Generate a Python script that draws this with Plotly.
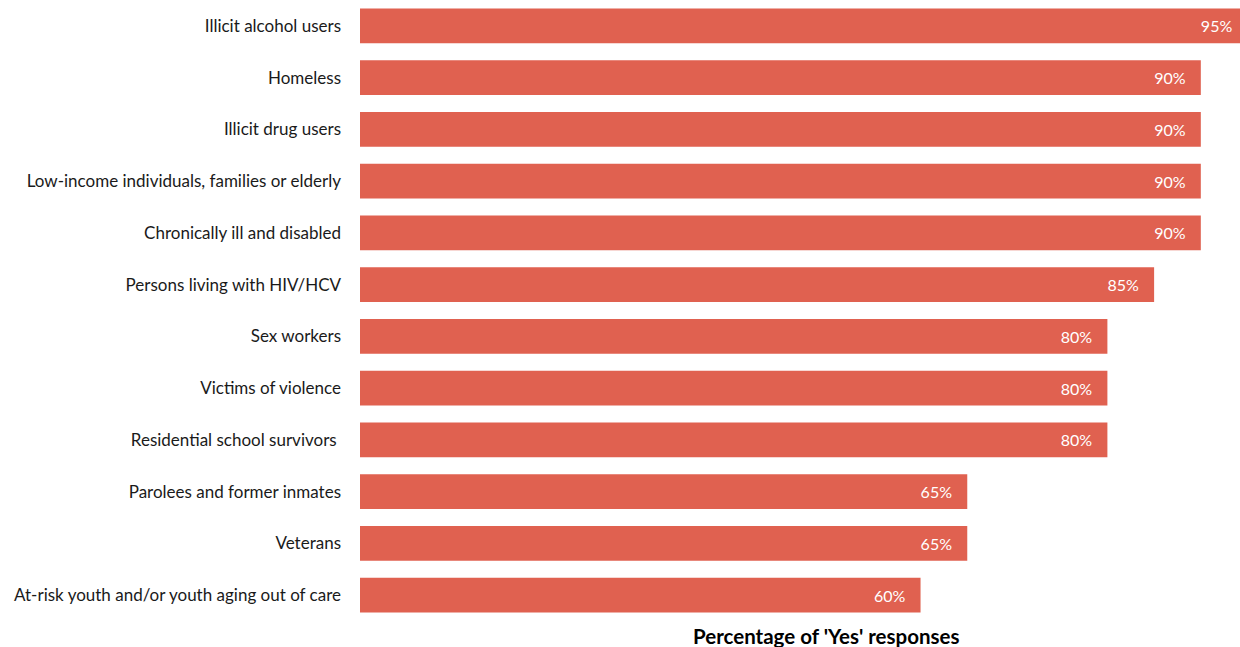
import plotly.graph_objects as go

categories = [
    "Illicit alcohol users",
    "Homeless",
    "Illicit drug users",
    "Low-income individuals, families or elderly",
    "Chronically ill and disabled",
    "Persons living with HIV/HCV",
    "Sex workers",
    "Victims of violence",
    "Residential school survivors ",
    "Parolees and former inmates",
    "Veterans",
    "At-risk youth and/or youth aging out of care",
]
values = [95, 90, 90, 90, 90, 85, 80, 80, 80, 65, 65, 60]
axis_title = "Percentage of 'Yes' responses"

FONT = "Lato, Calibri, Carlito, sans-serif"
PAD = "\u00a0" * 3
value_labels = [f"{v}%{PAD}" for v in values]

fig = go.Figure(
    go.Bar(
        y=categories,
        x=values,
        orientation="h",
        marker=dict(color="#E06150", line=dict(width=0)),
        text=value_labels,
        textposition="inside",
        insidetextanchor="end",
        textfont=dict(color="white", size=16, family=FONT),
        hoverinfo="skip",
    )
)

fig.update_layout(
    width=1248,
    height=647,
    margin=dict(l=360, r=0, t=0, b=26),
    plot_bgcolor="white",
    paper_bgcolor="white",
    bargap=0.33,
    showlegend=False,
    font=dict(family=FONT, size=17, color="#1a1a1a"),
    uniformtext=dict(minsize=16, mode="show"),
)
fig.update_xaxes(
    range=[0, 95.05],
    showgrid=False,
    zeroline=False,
    showticklabels=False,
    ticks="",
    showline=False,
)
fig.update_yaxes(
    autorange="reversed",
    showgrid=False,
    zeroline=False,
    ticks="",
    showline=False,
    ticklabelstandoff=18,
    tickfont=dict(family=FONT, size=17, color="#1a1a1a"),
)
fig.add_annotation(
    text=f"<b>{axis_title}</b>",
    xref="paper",
    yref="paper",
    x=(826 - 360) / 888,
    y=-15 / 621,
    xanchor="center",
    yanchor="middle",
    showarrow=False,
    font=dict(family=FONT, size=20.5, color="#000000"),
)

fig.write_html(
    "out.html",
    config={"displayModeBar": False},
    post_script="document.body.style.margin='0';document.body.style.overflow='hidden';",
)
